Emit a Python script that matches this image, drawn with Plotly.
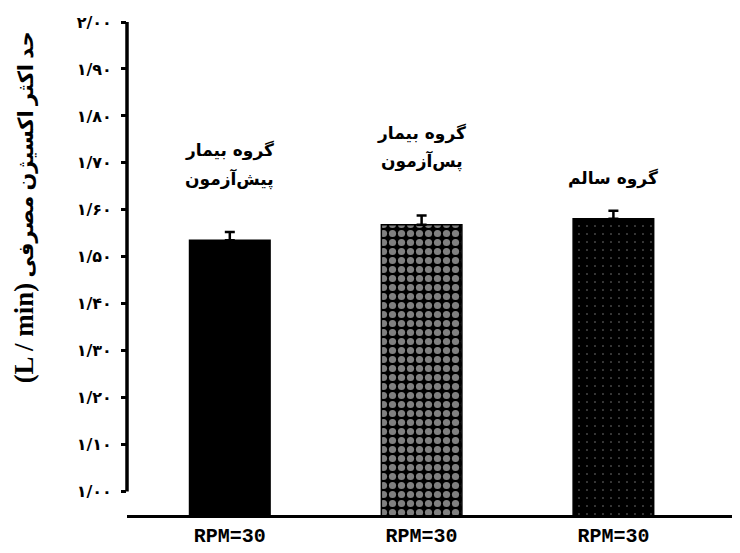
import plotly.graph_objects as go

# ---- data ----
categories = ["g1", "g2", "g3"]
tick_labels_x = ["RPM=30", "RPM=30", "RPM=30"]
values = [1.535, 1.568, 1.581]
errors = [0.018, 0.020, 0.017]
group_labels = [["گروه بیمار", "پیش\u200cآزمون"], ["گروه بیمار", "پس\u200cآزمون"], ["گروه سالم"]]
y_tick_vals = [1.0, 1.1, 1.2, 1.3, 1.4, 1.5, 1.6, 1.7, 1.8, 1.9, 2.0]
y_tick_text = ["۱/۰۰", "۱/۱۰", "۱/۲۰", "۱/۳۰", "۱/۴۰", "۱/۵۰", "۱/۶۰", "۱/۷۰", "۱/۸۰", "۱/۹۰", "۲/۰۰"]
y_title_unit = "(L / min)"
y_title_text = "حد اکثر اکسیژن مصرفی"

# ---- styles ----
patterns = [
    dict(shape=""),
    dict(shape=".", bgcolor="black", fgcolor="white", size=9, solidity=0.5),
    dict(shape=".", bgcolor="black", fgcolor="white", size=8, solidity=0.03),
]
label_shift = [53, 54, 32]   # px above error cap for the lowest label line
line_gap = 28                # px between label lines

fig = go.Figure()
for i, c in enumerate(categories):
    fig.add_trace(go.Bar(
        x=[c], y=[values[i]], base=0,
        width=0.42,
        marker=dict(color="black", line=dict(color="black", width=1.5), pattern=patterns[i]),
        error_y=dict(type="data", array=[errors[i]], arrayminus=[0], color="black", thickness=2.5, width=5),
        showlegend=False,
    ))
    lines = group_labels[i]
    n = len(lines)
    for j, txt in enumerate(lines):
        fig.add_annotation(
            x=c, y=values[i] + errors[i], xref="x", yref="y",
            text=txt, showarrow=False, yanchor="middle",
            yshift=label_shift[i] + (n - 1 - j) * line_gap,
            font=dict(family="DejaVu Sans", size=17, color="black", weight="bold"),
        )

fig.add_annotation(
    xref="paper", yref="paper", x=0, y=0.624, xshift=-103, xanchor="center",
    text='<span style="font-size:27px">' + y_title_unit + '</span> ' + y_title_text,
    textangle=-90, showarrow=False,
    font=dict(family="Liberation Serif, DejaVu Sans", size=21, color="black", weight="bold"),
)

# y axis line only over the labelled span
fig.add_shape(type="line", xref="paper", yref="y", x0=0, x1=0,
              y0=min(y_tick_vals), y1=max(y_tick_vals),
              line=dict(color="black", width=3.5))

fig.update_layout(
    width=732, height=545,
    margin=dict(l=119, r=0, t=14, b=37.5),
    plot_bgcolor="white", paper_bgcolor="white",
)
fig.update_xaxes(
    range=[-0.536, 2.66],
    tickvals=categories, ticktext=tick_labels_x,
    showline=True, linecolor="black", linewidth=3,
    ticks="", showgrid=False, zeroline=False,
    tickfont=dict(family="Liberation Mono", size=20, color="black", weight="bold"),
)
fig.update_yaxes(
    range=[0.95, 2.0],
    tickvals=y_tick_vals, ticktext=y_tick_text,
    showline=False, ticks="outside", ticklen=5, tickwidth=3, tickcolor="black",
    showgrid=False, zeroline=False, ticklabelstandoff=6,
    tickfont=dict(family="DejaVu Sans", size=16, color="black", weight="bold"),
)

fig.write_html("out.html")
